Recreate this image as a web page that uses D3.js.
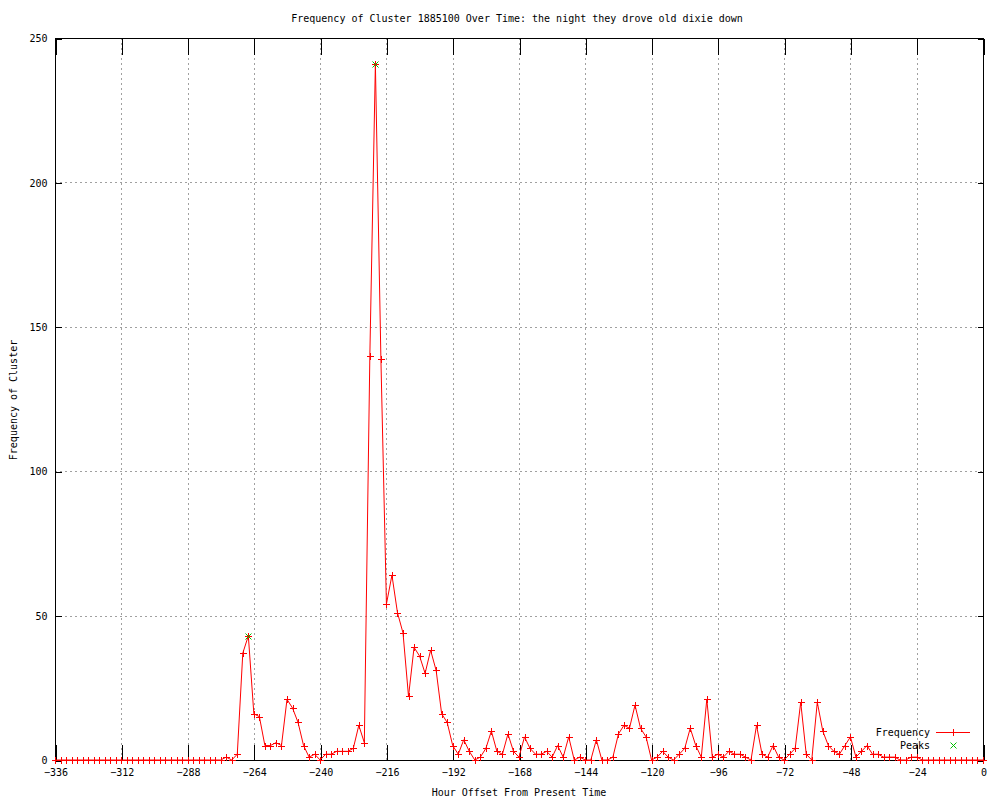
<!DOCTYPE html>
<html><head><meta charset="utf-8">
<script src="https://cdn.jsdelivr.net/npm/d3@7"></script>
<style>
body{margin:0;background:#fff;}
text{font-family:"DejaVu Sans Mono",monospace;font-size:10px;fill:#000;}
</style></head>
<body>
<svg id="chart" width="1000" height="800"></svg>
<script>
const title = "Frequency of Cluster 1885100 Over Time: the night they drove old dixie down";
const xLabel = "Hour Offset From Present Time";
const yLabel = "Frequency of Cluster";
const xTicks = [-336,-312,-288,-264,-240,-216,-192,-168,-144,-120,-96,-72,-48,-24,0];
const yTicks = [0,50,100,150,200,250];
// hours from -336 to 0, step 2
const hours = d3.range(-336, 1, 2);
const freqValues = [
  // -336 .. -276
  0,0,0,0,0,0,0,0,0,0, 0,0,0,0,0,0,0,0,0,0, 0,0,0,0,0,0,0,0,0,0, 0,
  // -274 .. -256
  1,0,2,37,43,16,15,5,5,6,
  // -254 .. -236
  5,21,18,13,5,1,2,0,2,2,
  // -234 .. -216
  3,3,3,4,12,6,140,241,139,54,
  // -214 .. -196
  64,51,44,22,39,36,30,38,31,16,
  // -194 .. -176
  13,5,2,7,3,0,1,4,10,3,
  // -174 .. -156
  2,9,3,1,8,4,2,2,3,1,
  // -154 .. -136
  5,1,8,0,1,0,0,7,0,0,
  // -134 .. -116
  1,9,12,11,19,11,8,0,1,3,
  // -114 .. -96
  1,0,2,4,11,5,1,21,1,2,
  // -94 .. -76
  1,3,2,2,1,0,12,2,1,5,
  // -74 .. -56
  1,0,2,4,20,2,0,20,10,5,
  // -54 .. -36
  3,2,5,8,1,3,5,2,2,1,
  // -34 .. -16
  1,1,0,0,1,1,0,0,0,0,
  // -14 .. 0
  0,0,0,0,0,0,0,0
];
const peakHours = [-266, -220];
const peakValues = [43, 241];

const freq = hours.map((h,i)=>({h, v: freqValues[i]}));
const peaks = peakHours.map((h,i)=>({h, v: peakValues[i]}));

const L=55, R=983, T=38, B=760;
const svg = d3.select("#chart");
const x = d3.scaleLinear().domain([-336,0]).range([L,R]);
const y = d3.scaleLinear().domain([0,250]).range([B,T]);
const px = v => Math.round(v)+0.5;

// grid
const g = svg.append("g");
g.selectAll(".gx").data(xTicks.slice(1,-1)).join("line")
  .attr("x1",d=>px(x(d))).attr("x2",d=>px(x(d))).attr("y1",T).attr("y2",B)
  .attr("stroke","#a0a0a0").attr("stroke-dasharray","2,3");
g.selectAll(".gy").data(yTicks.slice(1,-1)).join("line")
  .attr("y1",d=>px(y(d))).attr("y2",d=>px(y(d))).attr("x1",L).attr("x2",R)
  .attr("stroke","#a0a0a0").attr("stroke-dasharray","2,3");

// axes via d3
const xAxisB = d3.axisBottom(x).tickValues(xTicks).tickSize(-16).tickPadding(8).tickFormat(d3.format("d"));
const xAxisT = d3.axisTop(x).tickValues(xTicks).tickSize(-16).tickFormat("");
const yAxisL = d3.axisLeft(y).tickValues(yTicks).tickSize(-6).tickPadding(8).tickFormat(d3.format("d"));
const yAxisR = d3.axisRight(y).tickValues(yTicks).tickSize(-6).tickFormat("");
function style(sel){
  sel.select(".domain").remove();
  sel.selectAll("line").attr("stroke","#000").attr("shape-rendering","crispEdges");
  sel.selectAll("text").attr("fill","#000").style("font-family","DejaVu Sans Mono, monospace").style("font-size","10px");
}
svg.append("g").attr("transform",`translate(0.5,${B+0.5})`).call(xAxisB).call(style);
svg.append("g").attr("transform",`translate(0.5,${T+0.5})`).call(xAxisT).call(style);
svg.append("g").attr("transform",`translate(${L+0.5},0.5)`).call(yAxisL).call(style)
  .selectAll("text").attr("dy","0.32em");
svg.append("g").attr("transform",`translate(${R+0.5},0.5)`).call(yAxisR).call(style);

// border
svg.append("rect").attr("x",L+0.5).attr("y",T+0.5).attr("width",R-L).attr("height",B-T)
  .attr("fill","none").attr("stroke","#000").attr("shape-rendering","crispEdges");

// line
const line = d3.line().x(d=>x(d.h)).y(d=>y(d.v));
svg.append("path").datum(freq).attr("d",line).attr("fill","none").attr("stroke","#ff0000").attr("stroke-width",1);

// plus markers
const plus = (cx,cy,s)=>`M${cx-s},${cy}H${cx+s}M${cx},${cy-s}V${cy+s}`;
const cross = (cx,cy,s)=>`M${cx-s},${cy-s}L${cx+s},${cy+s}M${cx-s},${cy+s}L${cx+s},${cy-s}`;
svg.append("path").attr("d", freq.map(d=>plus(px(x(d.h)),px(y(d.v)),3.5)).join(""))
  .attr("stroke","#ff0000").attr("fill","none").attr("shape-rendering","crispEdges");
svg.append("path").attr("d", peaks.map(d=>cross(px(x(d.h)),px(y(d.v)),3)).join(""))
  .attr("stroke","#00c000").attr("fill","none");

// legend
svg.append("text").attr("x",930).attr("y",736).attr("text-anchor","end").text("Frequency");
svg.append("line").attr("x1",936).attr("x2",970).attr("y1",732.5).attr("y2",732.5).attr("stroke","#ff0000");
svg.append("path").attr("d",plus(953.5,732.5,3.5)).attr("stroke","#ff0000").attr("shape-rendering","crispEdges");
svg.append("text").attr("x",930).attr("y",749).attr("text-anchor","end").text("Peaks");
svg.append("path").attr("d",cross(953.5,745.5,3)).attr("stroke","#00c000");

// titles
svg.append("text").attr("x",517).attr("y",22).attr("text-anchor","middle").text(title);
svg.append("text").attr("x",519).attr("y",796).attr("text-anchor","middle").text(xLabel);
svg.append("text").attr("transform","translate(17,400) rotate(-90)").attr("text-anchor","middle").text(yLabel);
</script>
</body></html>
